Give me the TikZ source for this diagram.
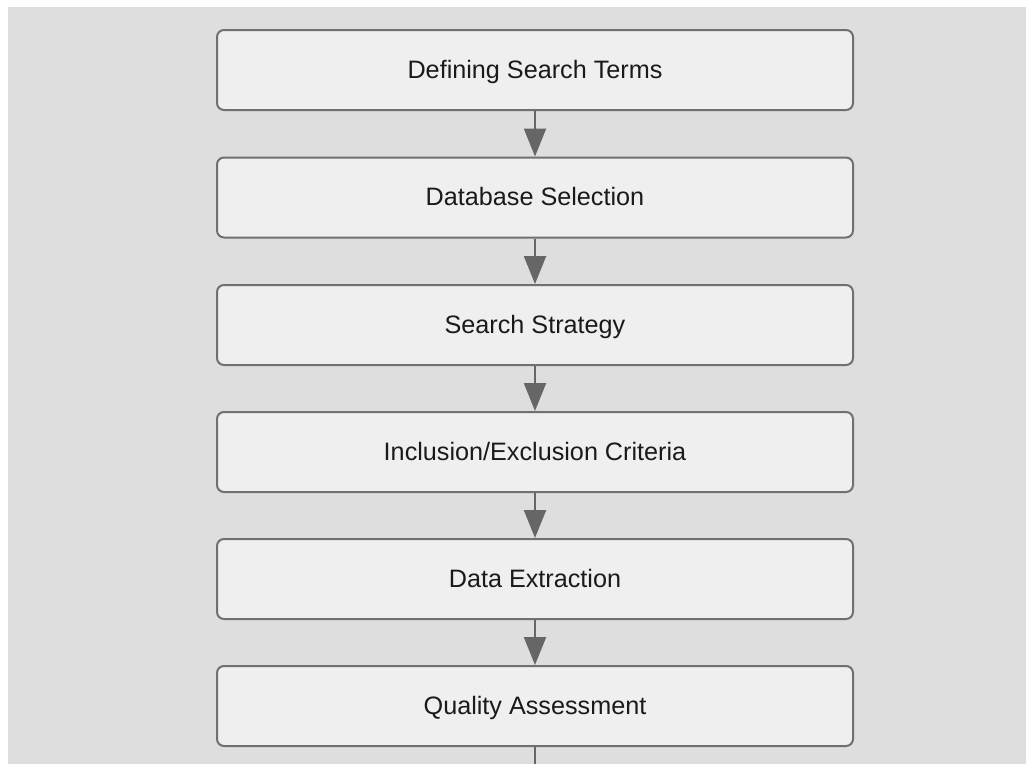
\documentclass[tikz,border=0pt]{standalone}
\usepackage{fontspec}
\setmainfont{Liberation Sans}
\usetikzlibrary{arrows.meta}
\definecolor{bggray}{HTML}{DEDEDE}
\definecolor{boxfill}{HTML}{EFEFEF}
\definecolor{boxline}{HTML}{707070}
\definecolor{arrowc}{HTML}{666666}
\definecolor{txt}{HTML}{1A1A1A}
\tikzset{
  stepbox/.style={draw=boxline, line width=2pt, fill=boxfill, rounded corners=7pt,
    minimum width=636pt, minimum height=80pt, inner sep=0pt,
    text height=18pt, text depth=2pt,
    font=\fontsize{25.2}{30}\selectfont, text=txt},
  flow/.style={draw=arrowc, line width=2.2pt, -{Triangle[length=28pt,width=22pt]}},
  flowend/.style={draw=arrowc, line width=2.2pt}
}
\begin{document}
\begin{tikzpicture}[x=1pt,y=-1pt]
\useasboundingbox (0,0) rectangle (1026,764);
\fill[white] (0,0) rectangle (1026,764);
\fill[bggray] (8,7) rectangle (1026,764);
\node[stepbox] (a) at (535,70) {Defining Search Terms};
\node[stepbox] (b) at (535,197.5) {Database Selection};
\node[stepbox] (c) at (535,325) {Search Strategy};
\node[stepbox] (d) at (535,452) {Inclusion/Exclusion Criteria};
\node[stepbox] (e) at (535,579) {Data Extraction};
\node[stepbox] (f) at (535,706) {Quality Assessment};
\coordinate (g) at (535,764);
\draw[flow] (a) -- (b);
\draw[flow] (b) -- (c);
\draw[flow] (c) -- (d);
\draw[flow] (d) -- (e);
\draw[flow] (e) -- (f);
\draw[flowend] (f) -- (g);
\end{tikzpicture}
\end{document}
